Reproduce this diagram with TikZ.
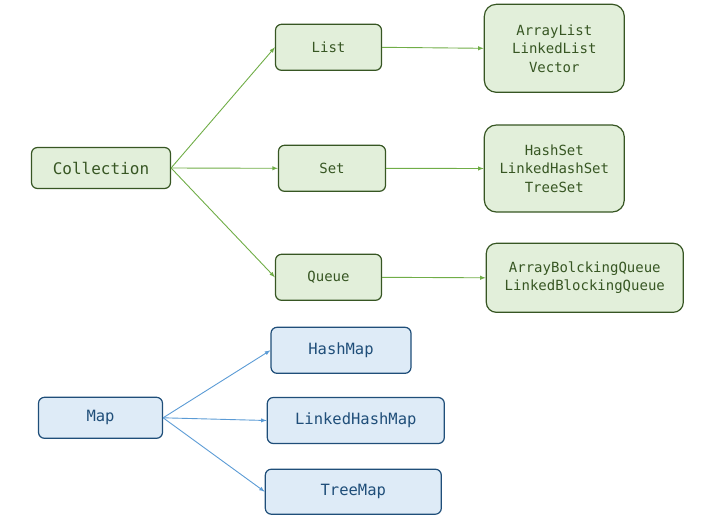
\documentclass[tikz,border=0pt]{standalone}
\usepackage{fontspec}
\setmonofont{DejaVu Sans Mono}
\usetikzlibrary{arrows}
\definecolor{gfill}{HTML}{E2EFDA}
\definecolor{gline}{HTML}{375623}
\definecolor{garrow}{HTML}{70AD47}
\definecolor{bfill}{HTML}{DEEBF7}
\definecolor{bline}{HTML}{1F4E79}
\definecolor{barrow}{HTML}{5B9BD5}

\begin{document}
\begin{tikzpicture}[>=latex, x=1pt, y=-1pt,
  gbox/.style={draw=gline, line width=1.2pt, fill=gfill, text=gline, rounded corners=6pt,
    font=\ttfamily\fontsize{14}{18.5}\selectfont, align=center, inner sep=0pt},
  bbox/.style={draw=bline, line width=1.2pt, fill=bfill, text=bline, rounded corners=6pt,
    font=\ttfamily\fontsize{15.5}{18.5}\selectfont, align=center, inner sep=0pt},
  garr/.style={->, draw=garrow, line width=0.9pt},
  barr/.style={->, draw=barrow, line width=0.9pt}]
  \useasboundingbox (0,0) rectangle (720,520);
  % collection side
  \node at (101,168) [gbox, minimum width=139pt, minimum height=41pt,
    font=\ttfamily\fontsize{16}{18.5}\selectfont] (coll) {Collection};
  \node at (328.5,47.3) [gbox, minimum width=106pt, minimum height=46pt] (list) {List};
  \node at (332,168.3) [gbox, minimum width=107pt, minimum height=46pt] (set) {Set};
  \node at (328.5,277.3) [gbox, minimum width=106pt, minimum height=46pt] (queue) {Queue};
  \node at (554.3,48.3) [gbox, rounded corners=12pt, minimum width=140pt, minimum height=88pt]
    (listimpl) {ArrayList\\LinkedList\\Vector};
  \node at (554.3,168.5) [gbox, rounded corners=12pt, minimum width=140pt, minimum height=87pt]
    (setimpl) {HashSet\\LinkedHashSet\\TreeSet};
  \node at (584.8,277.8) [gbox, rounded corners=10pt, minimum width=197pt, minimum height=69pt]
    (queueimpl) {ArrayBolckingQueue\\LinkedBlockingQueue};
  \draw [garr] (coll.east) -- (list.west);
  \draw [garr] (coll.east) -- (set.west);
  \draw [garr] (coll.east) -- (queue.west);
  \draw [garr] (list.east) -- (listimpl.west);
  \draw [garr] (set.east) -- (setimpl.west);
  \draw [garr] (queue.east) -- (queueimpl.west);
  % map side
  \node at (100.5,417.8) [bbox, minimum width=124pt, minimum height=41pt] (map) {Map};
  \node at (341,350.3) [bbox, minimum width=140pt, minimum height=46pt] (hashmap) {HashMap};
  \node at (355.8,420.5) [bbox, minimum width=177pt, minimum height=46pt] (linkedmap) {LinkedHashMap};
  \node at (353.3,491.7) [bbox, minimum width=176pt, minimum height=45pt] (treemap) {TreeMap};
  \draw [barr] (map.east) -- (hashmap.west);
  \draw [barr] (map.east) -- (linkedmap.west);
  \draw [barr] (map.east) -- (treemap.west);
\end{tikzpicture}
\end{document}
